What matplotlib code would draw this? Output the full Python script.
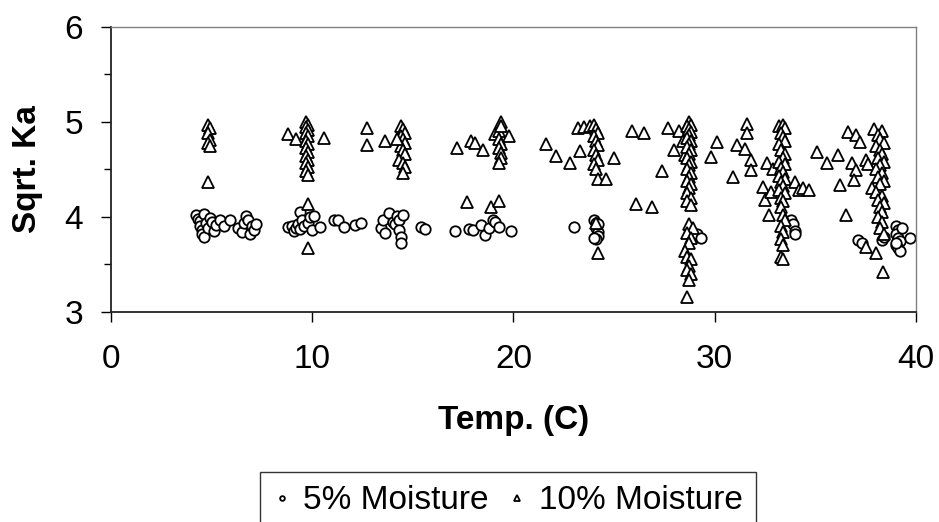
import numpy as np
import matplotlib
matplotlib.use("Agg")
import matplotlib.pyplot as plt
from matplotlib.ticker import MultipleLocator

plt.rcParams['font.family'] = ['Liberation Sans', 'DejaVu Sans']

# 5% moisture (circles): temperature (C) and sqrt(Ka)
temp_5 = [4.2, 4.3, 4.4, 4.4, 4.5, 4.5, 4.6, 4.6, 4.7, 4.8, 4.9, 5.0, 5.1, 5.2, 5.4, 5.6, 5.9,
          6.3, 6.5, 6.6, 6.7, 6.8, 6.9, 7.0, 7.1, 7.2,
          8.8, 9.0, 9.1, 9.2, 9.3, 9.4, 9.4, 9.5, 9.6, 9.8, 9.9, 10.0, 10.1, 10.4,
          11.1, 11.3, 11.6, 12.1, 12.4,
          13.4, 13.5, 13.6, 13.8, 14.0, 14.1, 14.2, 14.3, 14.3, 14.4, 14.4, 14.5, 15.4, 15.6,
          17.1, 17.8, 18.0, 18.4, 18.6, 18.8, 19.0, 19.1, 19.3, 19.9,
          23.0, 24.0, 24.1, 24.1, 24.2, 24.2, 24.1, 24.0, 24.2,
          29.1, 29.3,
          33.8, 33.9, 34.0, 34.0,
          37.1, 37.3, 38.3, 38.4, 39.0, 39.1, 39.0, 39.1, 39.2, 39.0, 39.1, 39.2, 39.0, 39.3, 39.7]
ka_5 = [4.02, 3.98, 3.95, 3.90, 3.86, 3.82, 3.79, 4.03, 3.93, 3.88, 3.99, 3.94, 3.85, 3.91, 3.96, 3.90, 3.97,
        3.88, 3.84, 3.93, 4.01, 3.96, 3.82, 3.90, 3.86, 3.92,
        3.89, 3.90, 3.85, 3.88, 3.92, 3.87, 4.05, 3.96, 3.90, 3.93, 4.00, 3.86, 4.01, 3.89,
        3.97, 3.96, 3.89, 3.91, 3.93,
        3.88, 3.96, 3.83, 4.04, 3.94, 3.92, 4.01, 3.97, 3.86, 3.79, 3.72, 4.02, 3.89, 3.87,
        3.85, 3.87, 3.86, 3.91, 3.81, 3.88, 3.96, 3.94, 3.89, 3.85,
        3.89, 3.96, 3.93, 3.88, 3.84, 3.80, 3.76, 3.78, 3.92,
        3.82, 3.78,
        3.97, 3.92, 3.85, 3.82,
        3.75, 3.72, 3.75, 3.79, 3.90, 3.86, 3.82, 3.78, 3.74, 3.70, 3.67, 3.64, 3.72, 3.88, 3.78]

# 10% moisture (triangles)
temp_10 = [4.8, 4.9, 4.8, 4.9, 4.8, 4.9, 4.8,
           8.8, 9.2, 9.7, 9.8, 9.7, 9.8, 9.7, 9.8, 9.7, 9.8, 9.7, 9.8, 9.7, 9.8, 9.7, 9.8, 9.7, 9.8,
           9.8, 9.8, 10.6,
           12.7, 12.7, 13.6,
           14.4, 14.5, 14.6, 14.4, 14.5, 14.6, 14.4, 14.5, 14.6, 14.3, 14.5, 14.6, 14.5, 14.2,
           17.2, 17.7, 17.9, 18.1, 18.5, 18.9, 19.3, 19.1, 19.3, 19.4, 19.4, 19.3, 19.4, 19.3, 19.4,
           19.4, 19.3, 19.8,
           21.6, 22.1, 22.8, 23.2, 23.3, 23.5, 23.8, 24.0, 24.1, 24.2, 24.0, 24.1, 24.2, 24.0, 24.1,
           24.2, 24.0, 24.1, 24.2, 24.1, 24.2, 24.6, 25.0,
           25.9, 26.1, 26.5, 26.9, 27.4, 27.7, 28.0, 28.2, 28.4, 28.5,
           28.7, 28.8, 28.6, 28.7, 28.8, 28.7, 28.6, 28.8, 28.7, 28.6, 28.8, 28.7, 28.6, 28.8, 28.7,
           28.6, 28.8, 28.7, 28.6, 28.8, 28.7, 28.6, 28.8, 28.6, 28.8,
           28.7, 28.9, 28.6, 28.8, 28.7, 28.5, 28.6, 28.8, 28.7, 28.6, 28.8, 28.7, 28.6,
           29.8, 30.1, 30.9, 31.1, 31.5, 31.6, 31.6, 31.8, 31.8, 32.4, 32.5, 32.6, 32.7, 32.8, 32.9,
           33.2, 33.4, 33.5, 33.3, 33.4, 33.5, 33.2, 33.3, 33.5, 33.4, 33.2, 33.5, 33.3, 33.4, 33.2,
           33.5, 33.3, 33.4, 33.2, 33.5, 33.3, 33.4, 33.3, 33.4, 33.5, 33.3, 33.4, 33.3, 33.4, 33.3,
           33.4, 34.0, 34.2, 34.4, 34.7,
           35.1, 35.6, 36.1, 36.2, 36.5, 36.6, 37.0, 37.2, 36.8, 37.0, 36.9, 37.5, 37.6, 37.5, 38.0,
           38.35,
           37.9, 38.3, 38.1, 38.2, 38.4, 38.0, 38.2, 38.3, 38.1, 38.4, 38.2, 38.0, 38.3, 38.1, 38.4,
           38.2, 37.8, 38.0, 38.3, 38.1, 38.4, 38.2, 38.3, 38.1, 38.3, 38.2, 38.4]
ka_10 = [4.97, 4.93, 4.88, 4.81, 4.78, 4.74, 4.36,
         4.87, 4.82, 5.00, 4.97, 4.94, 4.91, 4.88, 4.85, 4.80, 4.76, 4.72, 4.68, 4.64, 4.60, 4.56, 4.52, 4.48, 4.44,
         4.13, 3.67, 4.83,
         4.93, 4.75, 4.80,
         4.95, 4.92, 4.88, 4.85, 4.82, 4.78, 4.74, 4.70, 4.66, 4.60, 4.56, 4.52, 4.46, 4.82,
         4.72, 4.15, 4.80, 4.78, 4.70, 4.10, 4.16, 4.87, 4.90, 5.00, 4.95, 4.82, 4.77, 4.72, 4.67,
         4.62, 4.57, 4.85,
         4.76, 4.64, 4.56, 4.93, 4.69, 4.94, 4.95, 4.97, 4.92, 4.88, 4.85, 4.80, 4.75, 4.70, 4.65,
         4.60, 4.55, 4.50, 4.40, 3.93, 3.62, 4.40, 4.62,
         4.90, 4.13, 4.88, 4.10, 4.48, 4.93, 4.70, 4.90, 4.80, 4.65,
         5.00, 4.97, 4.95, 4.92, 4.89, 4.86, 4.83, 4.80, 4.76, 4.73, 4.70, 4.66, 4.62, 4.58, 4.54,
         4.50, 4.46, 4.42, 4.38, 4.34, 4.30, 4.25, 4.20, 4.16, 4.12,
         3.92, 3.88, 3.83, 3.78, 3.72, 3.64, 3.58, 3.55, 3.48, 3.44, 3.40, 3.33, 3.15,
         4.63, 4.79, 4.42, 4.75, 4.71, 4.98, 4.88, 4.60, 4.49, 4.31, 4.18, 4.56, 4.02, 4.26, 4.50,
         4.95, 4.97, 4.93, 4.88, 4.84, 4.80, 4.76, 4.70, 4.66, 4.62, 4.58, 4.55, 4.51, 4.47, 4.43,
         4.40, 4.36, 4.32, 4.28, 4.25, 4.20, 4.16, 4.10, 4.02, 3.96, 3.90, 3.84, 3.77, 3.70, 3.58,
         3.55, 4.36, 4.28, 4.30, 4.28,
         4.68, 4.56, 4.65, 4.33, 4.02, 4.89, 4.86, 4.79, 4.56, 4.49, 4.39, 4.60, 4.55, 3.68, 3.62,
         3.42,
         4.92, 4.90, 4.86, 4.82, 4.78, 4.74, 4.70, 4.66, 4.62, 4.58, 4.54, 4.50, 4.46, 4.42, 4.38,
         4.34, 4.30, 4.26, 4.22, 4.18, 4.14, 4.10, 4.05, 4.00, 3.94, 3.88, 3.82]

fig = plt.figure(figsize=(9.39, 5.22), dpi=100)
ax = fig.add_axes([0.1182, 0.4029, 0.8573, 0.546])

ax.plot(temp_5, ka_5, linestyle='none', marker='o', markersize=7.5,
        markerfacecolor='white', markeredgecolor='black', markeredgewidth=1.3,
        label='5% Moisture')
ax.plot(temp_10, ka_10, linestyle='none', marker='^', markersize=9,
        markerfacecolor='white', markeredgecolor='black', markeredgewidth=1.3,
        label='10% Moisture')

ax.set_xlim(0, 40)
ax.set_ylim(3, 6)
ax.xaxis.set_major_locator(MultipleLocator(10))
ax.yaxis.set_major_locator(MultipleLocator(1))
ax.yaxis.set_minor_locator(MultipleLocator(0.5))

ax.tick_params(axis='x', direction='out', length=7, width=1, labelsize=24, pad=16)
ax.tick_params(axis='y', which='major', direction='out', length=7, width=1, labelsize=24, pad=13)
ax.tick_params(axis='y', which='minor', direction='out', length=5, width=1)

for side in ['top', 'right']:
    ax.spines[side].set_color('#808080')
    ax.spines[side].set_linewidth(1)
for side in ['left', 'bottom']:
    ax.spines[side].set_color('#222222')
    ax.spines[side].set_linewidth(1.3)

ax.set_xlabel('Temp. (C)', fontsize=24, fontweight='bold')
ax.set_ylabel('Sqrt. Ka', fontsize=24, fontweight='bold')
ax.xaxis.set_label_coords(0.5, -0.3835)
ax.yaxis.set_label_coords(-0.1043, 0.5)
ax.xaxis.label.set_va('center')
ax.yaxis.label.set_va('center')

leg = fig.legend(loc='upper left', bbox_to_anchor=(260 / 939, 1 - 472 / 522),
                 ncol=2, fontsize=24, frameon=True, fancybox=False,
                 markerscale=0.45, handlelength=0.5, handletextpad=0.4,
                 columnspacing=0.6, borderpad=0.4, borderaxespad=0)
leg.get_frame().set_edgecolor('black')
leg.get_frame().set_linewidth(1)

fig.savefig('out.png', dpi=100)
